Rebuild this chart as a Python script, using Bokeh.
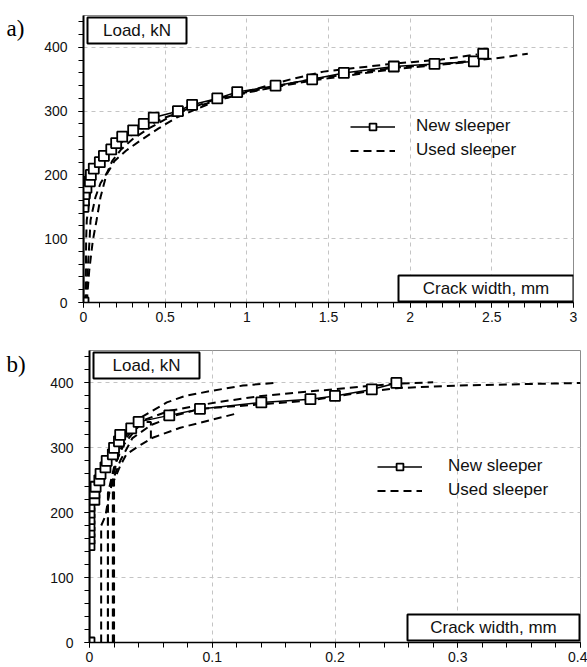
from bokeh.plotting import figure
from bokeh.layouts import row
from bokeh.models import (Range1d, Label, BoxAnnotation, Legend, LegendItem,
                          SingleIntervalTicker, CustomJSTickFormatter)
from bokeh.embed import file_html
from bokeh.resources import INLINE

# ---------------- Panel a) data ----------------
a_new_x = [0, 0, 0.003, 0.006, 0.018, 0.039, 0.045, 0.063, 0.1, 0.125, 0.17, 0.2, 0.237,
           0.304, 0.369, 0.43, 0.578, 0.665, 0.819, 0.941, 1.176, 1.4, 1.594, 1.9, 2.149,
           2.39, 2.447]
a_new_y = [0, 150, 160, 170, 180, 190, 200, 210, 220, 230, 240, 250, 260,
           270, 280, 290, 300, 310, 320, 330, 340, 350, 360, 370, 374,
           378, 390]

a_used1_x = [0.02, 0.035, 0.057, 0.08, 0.104, 0.14, 0.19, 0.26, 0.36, 0.46, 0.57, 0.68,
             0.82, 1.0, 1.2, 1.4, 1.9, 2.15, 2.4]
a_used1_y = [0, 50, 97, 129, 165, 200, 222, 238, 256, 273, 290, 302,
             317, 329, 339, 348, 366, 372, 378]
a_used2_x = [0.015, 0.025, 0.037, 0.043, 0.073, 0.104, 0.145, 0.176, 0.23, 0.3, 0.4, 0.5,
             0.6, 0.8, 1.0, 1.27, 1.47, 1.88, 2.19, 2.41]
a_used2_y = [0, 50, 97, 129, 165, 187, 204, 222, 240, 256, 273, 287,
             300, 318, 331, 350, 362, 374, 381, 389]
a_used3_x = [0.01, 0.015, 0.016, 0.02, 0.04, 0.07, 0.1, 0.165, 0.25, 0.35, 0.5, 0.7,
             1.0, 1.4, 1.9, 2.2, 2.49, 2.59, 2.72]
a_used3_y = [0, 50, 97, 129, 170, 200, 215, 235, 255, 272, 290, 308,
             330, 350, 368, 374, 382, 385, 390]

# ---------------- Panel b) data ----------------
b_new_x = [0, 0, 0, 0, 0, 0, 0, 0, 0.004, 0.004, 0.005, 0.008, 0.009, 0.013, 0.014,
           0.019, 0.02, 0.024, 0.025, 0.034, 0.04, 0.065, 0.09, 0.14, 0.18, 0.2, 0.23, 0.25]
b_new_y = [0, 150, 160, 170, 180, 190, 200, 210, 220, 230, 240, 250, 260, 270, 280,
           290, 300, 310, 320, 330, 340, 350, 360, 370, 375, 380, 390, 400]

b_used1_x = [0.015, 0.015, 0.02, 0.03, 0.042, 0.063, 0.078, 0.1, 0.125, 0.15]
b_used1_y = [0, 230, 270, 320, 347, 370, 380, 388, 396, 400]
b_used2_x = [0.019, 0.019, 0.022, 0.028, 0.04, 0.065, 0.103, 0.14, 0.18, 0.22, 0.25, 0.28]
b_used2_y = [0, 250, 280, 310, 340, 357, 370, 380, 387, 394, 399, 401]
b_used3_x = [0.0095, 0.0095, 0.013, 0.016, 0.02, 0.025, 0.035, 0.05, 0.07, 0.09, 0.139,
             0.18, 0.22, 0.25, 0.3, 0.35, 0.4]
b_used3_y = [0, 180, 195, 229, 255, 280, 315, 335, 350, 360, 367,
             373, 385, 392, 396, 398, 400]
b_used4_x = [0.02, 0.02, 0.025, 0.03, 0.042, 0.052, 0.074, 0.118]
b_used4_y = [0, 250, 272, 290, 305, 316, 331, 352]
b_used5_x = [0.015, 0.015, 0.018, 0.022, 0.028, 0.035, 0.043, 0.05, 0.05]
b_used5_y = [0, 220, 250, 280, 305, 322, 340, 340, 308]

y_range_max = 450
FONT = "Liberation Sans"
TAG_W = 32


def make_tag(text, height, tag_y):
    # tag_y is measured from the bottom of the (row-aligned) frame
    t = figure(width=TAG_W, height=height, output_backend="svg", toolbar_location=None,
               x_range=Range1d(0, 1), y_range=Range1d(0, 1),
               x_axis_location=None, y_axis_location=None,
               min_border_left=0, min_border_right=0, min_border_top=0, min_border_bottom=0)
    t.grid.visible = False
    t.outline_line_color = None
    t.background_fill_color = "white"
    t.border_fill_color = "white"
    t.add_layout(Label(x=6, y=tag_y, x_units="screen", y_units="screen",
                       text=text, text_font="Liberation Serif", text_font_size="23px",
                       text_baseline="alphabetic", text_color="black"))
    return t


def make_panel(x_max, x_interval, height, bl, br, bt, bb,
               new_x, new_y, used, load_box, crack_box, leg_loc, leg_standoff):
    p = figure(width=587 - TAG_W, height=height, output_backend="svg", toolbar_location=None,
               x_range=Range1d(0, x_max), y_range=Range1d(0, y_range_max),
               min_border_left=bl - TAG_W, min_border_right=br, min_border_top=bt,
               min_border_bottom=bb)
    p.background_fill_color = "white"
    p.border_fill_color = "white"
    p.outline_line_color = "#8c8c8c"
    p.outline_line_width = 1

    p.xaxis.ticker = SingleIntervalTicker(interval=x_interval, num_minor_ticks=5)
    p.yaxis.ticker = SingleIntervalTicker(interval=100, num_minor_ticks=5)
    fmt = CustomJSTickFormatter(code="return String(Number(tick.toFixed(4)));")
    p.xaxis.formatter = fmt
    p.yaxis.formatter = fmt
    for ax in (p.xaxis[0], p.yaxis[0]):
        ax.axis_line_color = "black"
        ax.major_tick_line_color = "black"
        ax.minor_tick_line_color = "black"
        ax.major_tick_in = 0
        ax.minor_tick_in = 0
        ax.major_tick_out = 5
        ax.minor_tick_out = 5
        ax.major_label_text_font = FONT
        ax.major_label_text_font_size = "14px"
        ax.major_label_text_color = "#111111"
    p.yaxis.axis_line_width = 2
    p.xaxis.axis_line_width = 1.5
    p.yaxis.major_label_standoff = 11
    p.xaxis.major_label_standoff = 4

    for g in (p.xgrid[0], p.ygrid[0]):
        g.grid_line_color = "#c4c4c4"
        g.grid_line_dash = "4 4"
        g.grid_line_width = 1

    used_renderers = []
    for ux, uy in used:
        r = p.line(ux, uy, line_color="black", line_width=2, line_dash="8 5")
        used_renderers.append(r)
    ln = p.line(new_x, new_y, line_color="black", line_width=1.5)
    sc = p.scatter(new_x, new_y, marker="square", size=10, fill_color="white",
                   line_color="black", line_width=1.8)

    legend = Legend(items=[LegendItem(label="New sleeper", renderers=[ln, sc]),
                           LegendItem(label="Used sleeper", renderers=[used_renderers[0]])],
                    location=leg_loc, orientation="vertical")
    legend.label_text_font = FONT
    legend.label_text_font_size = "17px"
    legend.label_text_color = "#111111"
    legend.glyph_width = 45
    legend.glyph_height = 17
    legend.label_height = 17
    legend.spacing = 4
    legend.padding = 0
    legend.margin = 0
    legend.label_standoff = leg_standoff
    legend.background_fill_alpha = 0
    legend.border_line_alpha = 0
    p.add_layout(legend, "center")

    for (l, r, t, b), txt in ((load_box, "Load, kN"), (crack_box, "Crack width, mm")):
        box = BoxAnnotation(left=l, right=r, top=t, bottom=b,
                            left_units="screen", right_units="screen",
                            top_units="screen", bottom_units="screen",
                            fill_color="white", fill_alpha=1.0,
                            line_color="black", line_width=2, line_alpha=1.0)
        p.add_layout(box)
        lab = Label(x=(l + r) / 2, y=(t + b) / 2, x_units="screen", y_units="screen",
                    text=txt, text_font=FONT, text_font_size="17px",
                    text_align="center", text_baseline="middle", text_color="#111111")
        p.add_layout(lab)
    return p


pa = make_panel(3, 0.5, 333, 83, 14, 15, 31,
                a_new_x, a_new_y, [(a_used1_x, a_used1_y), (a_used2_x, a_used2_y),
                                   (a_used3_x, a_used3_y)],
                (4, 103, 285, 259), (315, 490, 27, 1), (267, 142), 21)

pb = make_panel(0.4, 0.1, 334, 89, 7, 17, 25,
                b_new_x, b_new_y, [(b_used1_x, b_used1_y), (b_used2_x, b_used2_y),
                                   (b_used3_x, b_used3_y), (b_used4_x, b_used4_y),
                                   (b_used5_x, b_used5_y)],
                (4, 110, 290, 264), (318, 490, 28, 2), (288, 142), 26)

ra = row(make_tag("a)", 333, 274), pa, spacing=0)
rb = row(make_tag("b)", 334, 278), pb, spacing=0)

open("out.html", "w").write(file_html([ra, rb], INLINE))
